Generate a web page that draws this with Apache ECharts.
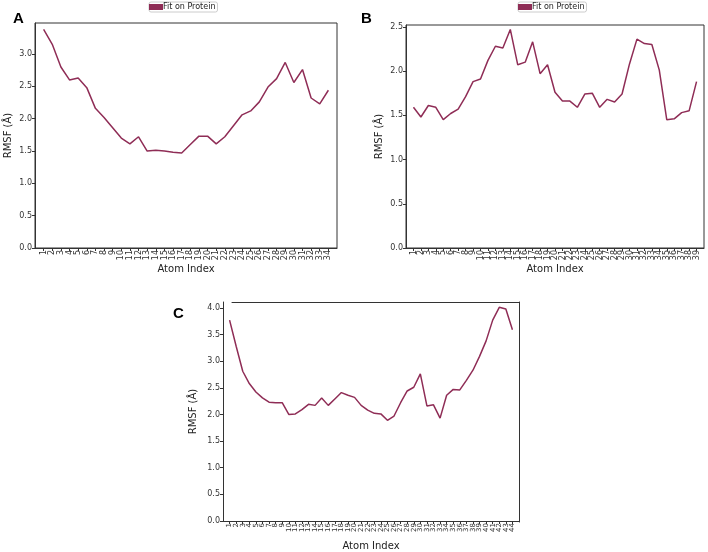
<!DOCTYPE html>
<html>
<head>
<meta charset="utf-8">
<script src="https://cdn.jsdelivr.net/npm/echarts@6/dist/echarts.min.js"></script>
<style>
  body { margin: 0; background: #fff; }
  #myEcharts { width: 708px; height: 552px; }
</style>
</head>
<body>
<div id="myEcharts"></div>
<script>
// atom indices (tick labels) and RMSF values
const atomA = [1,2,3,4,5,6,7,8,9,10,11,12,13,14,15,16,17,18,19,20,21,22,23,24,25,26,27,28,29,30,31,32,33,34];
const rmsfA = [3.38,3.15,2.80,2.60,2.63,2.48,2.16,2.02,1.86,1.70,1.61,1.72,1.50,1.51,1.50,1.48,1.47,1.60,1.73,1.73,
               1.61,1.72,1.89,2.06,2.12,2.26,2.49,2.62,2.87,2.56,2.76,2.32,2.23,2.44];

const atomB = [1,2,3,4,5,6,7,8,9,10,11,12,13,14,15,16,17,18,19,20,21,22,23,24,25,26,27,28,29,30,31,32,33,34,35,36,37,38,39];
const rmsfB = [1.59,1.48,1.61,1.59,1.45,1.52,1.57,1.71,1.88,1.91,2.12,2.28,2.26,2.47,2.07,2.10,2.33,1.97,2.07,1.76,
               1.66,1.66,1.59,1.74,1.75,1.59,1.68,1.65,1.74,2.08,2.36,2.31,2.30,2.01,1.45,1.46,1.53,1.55,1.88];

const atomC = [1,2,3,4,5,6,7,8,9,10,11,12,13,14,15,16,17,18,19,20,21,22,23,24,25,26,27,28,29,30,31,32,33,34,35,36,37,38,39,40,41,42,43,44];
const rmsfC = [3.77,3.28,2.81,2.58,2.42,2.31,2.23,2.22,2.22,2.00,2.01,2.09,2.19,2.17,2.31,2.17,2.29,2.41,2.36,2.32,
               2.17,2.08,2.02,2.01,1.89,1.97,2.22,2.44,2.51,2.76,2.16,2.18,1.93,2.36,2.47,2.46,2.64,2.83,3.09,3.38,
               3.77,4.01,3.98,3.59];

const yTicksA = [0, 0.5, 1.0, 1.5, 2.0, 2.5, 3.0];
const yTicksB = [0, 0.5, 1.0, 1.5, 2.0, 2.5];
const yTicksC = [0, 0.5, 1.0, 1.5, 2.0, 2.5, 3.0, 3.5, 4.0];

const lineColor = '#8f2d56';
const axisColor = '#333';
const font = 'DejaVu Sans';

// one empty category on each side gives the matplotlib-like margin
function cats(xs) {
    return [''].concat(xs.map(String), [' ']);
}

function pairs(xs, ys) {
    return xs.map((x, i) => [String(x), ys[i]]);
}

function xAx(grid, ticks, fs, gap) {
    return {
        type: 'category', gridIndex: grid, data: cats(ticks), boundaryGap: false,
        name: 'Atom Index', nameLocation: 'middle', nameGap: gap,
        nameTextStyle: { fontFamily: font, fontSize: 10, color: '#222' },
        axisLine: { show: true, onZero: false, lineStyle: { color: axisColor, width: 1 } },
        axisTick: { show: true, length: 3, interval: (i, v) => v.trim() !== '', lineStyle: { color: axisColor } },
        axisLabel: { interval: 0, rotate: 90, fontSize: fs, fontFamily: font, color: '#333', margin: 2 },
        splitLine: { show: false }
    };
}

function yAx(grid, ticks, max, gap) {
    return {
        type: 'value', gridIndex: grid, min: 0, max: max,
        name: 'RMSF (Å)', nameLocation: 'middle', nameGap: gap,
        nameTextStyle: { fontFamily: font, fontSize: 10, color: '#222' },
        axisLine: { show: true, onZero: false, lineStyle: { color: axisColor, width: 1 } },
        axisTick: { show: true, customValues: ticks, length: 3, lineStyle: { color: axisColor } },
        axisLabel: { customValues: ticks, fontSize: 8, fontFamily: font, color: '#333', margin: 3,
                     formatter: v => v.toFixed(1) },
        splitLine: { show: false }
    };
}

function legendAt(left) {
    return {
        left: left, top: 2, data: ['Fit on Protein'], icon: 'rect',
        itemWidth: 14, itemHeight: 6, padding: [1, 2, 1, 0],
        borderColor: '#ccc', borderWidth: 1, borderRadius: 2,
        textStyle: { fontFamily: font, fontSize: 8, color: '#222', padding: [0, 0, 0, -5] }
    };
}

let chart = echarts.init(document.getElementById('myEcharts'), null, { renderer: 'canvas' });
chart.setOption({
    backgroundColor: '#fff',
    animation: false,
    title: [
        { text: 'A', left: 8, top: 6, textStyle: { fontFamily: 'Liberation Sans', fontSize: 15, fontWeight: 'bold', color: '#000' } },
        { text: 'B', left: 356, top: 6, textStyle: { fontFamily: 'Liberation Sans', fontSize: 15, fontWeight: 'bold', color: '#000' } },
        { text: 'C', left: 168, top: 301, textStyle: { fontFamily: 'Liberation Sans', fontSize: 15, fontWeight: 'bold', color: '#000' } }
    ],
    legend: [legendAt(149), legendAt(518)],
    grid: [
        { left: 35, top: 23, width: 302, height: 225, show: true, borderColor: axisColor, borderWidth: 1 },
        { left: 406, top: 25, width: 300, height: 223, show: true, borderColor: axisColor, borderWidth: 1 },
        { left: 223, top: 302, width: 296, height: 220 },
        // top and right spine of panel C (top spine starts a bit right of the y axis)
        { left: 232, top: 302, width: 287, height: 220 }
    ],
    xAxis: [
        xAx(0, atomA, 8, 14),
        xAx(1, atomB, 8, 14),
        xAx(2, atomC, 7, 20),
        { type: 'value', gridIndex: 3, position: 'top', min: 0, max: 1,
          axisLine: { show: true, onZero: false, lineStyle: { color: axisColor } },
          axisTick: { show: false }, axisLabel: { show: false }, splitLine: { show: false } }
    ],
    yAxis: [
        yAx(0, yTicksA, 3.48, 22),
        yAx(1, yTicksB, 2.52, 22),
        yAx(2, yTicksC, 4.11, 25),
        { type: 'value', gridIndex: 3, position: 'right', min: 0, max: 1,
          axisLine: { show: true, onZero: false, lineStyle: { color: axisColor } },
          axisTick: { show: false }, axisLabel: { show: false }, splitLine: { show: false } }
    ],
    series: [
        { name: 'Fit on Protein', type: 'line', xAxisIndex: 0, yAxisIndex: 0, data: pairs(atomA, rmsfA),
          showSymbol: false, lineStyle: { color: lineColor, width: 1.5 }, itemStyle: { color: lineColor } },
        { name: 'Fit on Protein', type: 'line', xAxisIndex: 1, yAxisIndex: 1, data: pairs(atomB, rmsfB),
          showSymbol: false, lineStyle: { color: lineColor, width: 1.5 }, itemStyle: { color: lineColor } },
        { name: 'Fit on Protein', type: 'line', xAxisIndex: 2, yAxisIndex: 2, data: pairs(atomC, rmsfC),
          showSymbol: false, lineStyle: { color: lineColor, width: 1.5 }, itemStyle: { color: lineColor } }
    ]
});
</script>
</body>
</html>
